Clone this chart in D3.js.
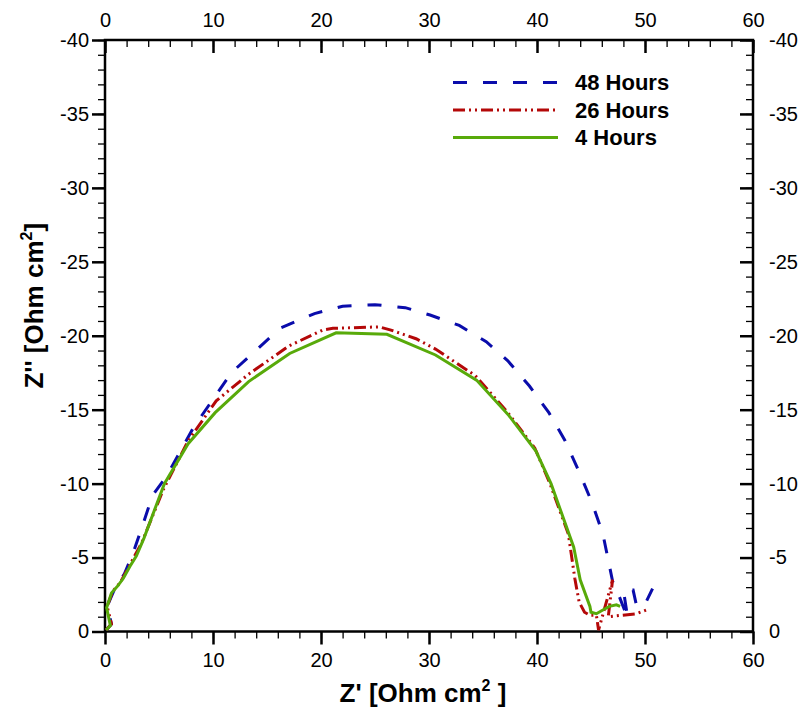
<!DOCTYPE html>
<html>
<head>
<meta charset="utf-8">
<script src="https://cdn.jsdelivr.net/npm/d3@7"></script>
<style>
  body { margin: 0; background: #fff; }
  text { font-family: "Liberation Sans", Arial, sans-serif; }
  .tick text { font-size: 20px; fill: #000; }
  .tick line { stroke: #000; }
  .title { font-size: 26px; font-weight: bold; }
  .legend text { font-size: 22px; font-weight: bold; }
</style>
</head>
<body>
<div id="chart-area"></div>
<script>
// Nyquist data: [Z', Z'']
var hours48 = [[0.1,-0.1],[0.6,-0.5],[0.2,-1.7],[0.9,-2.9],[1.8,-3.9],[2.6,-5.3],[3.4,-7.0],[4.4,-9.2],
  [5.7,-10.5],[8.2,-13.8],[11.7,-17.5],[16.2,-20.5],[19.4,-21.5],[22.0,-22.0],[25.0,-22.1],[27.8,-21.9],
  [30.1,-21.4],[32.8,-20.7],[35.3,-19.6],[37.3,-18.3],[39.3,-16.6],[41.1,-14.8],[42.6,-12.9],[43.9,-10.8],
  [45.1,-8.7],[46.1,-6.6],[47.0,-3.4],[47.6,-2.4],[48.4,-0.9],[48.0,-2.8],[48.9,-2.8],[49.2,-1.8],
  [49.9,-1.7],[50.7,-2.9]];
var hours26 = [[0.1,-0.1],[0.6,-0.5],[0.2,-1.7],[0.7,-2.7],[1.4,-3.3],[2.3,-4.5],[3.4,-6.0],[5.4,-9.6],
  [7.7,-12.9],[10.3,-15.6],[13.3,-17.4],[17.0,-19.3],[20.2,-20.4],[21.1,-20.5],[25.4,-20.6],[26.4,-20.4],
  [28.8,-19.8],[30.6,-19.1],[34.3,-17.3],[37.3,-14.8],[39.8,-12.4],[41.2,-10.0],[42.9,-6.6],[43.5,-3.6],
  [43.9,-2.0],[44.4,-1.3],[44.9,-1.1],[45.5,-1.1],[45.7,-0.1],[47.0,-3.5],[46.6,-1.0],[47.9,-1.1],
  [49.2,-1.2],[50.1,-1.45]];
var hours4 = [[0.1,-0.1],[0.5,-0.4],[0.15,-1.6],[0.6,-2.6],[1.2,-3.1],[1.7,-3.6],[2.3,-4.4],[2.9,-5.1],
  [3.6,-6.3],[5.5,-10.0],[7.7,-12.7],[10.2,-14.8],[13.3,-16.9],[17.1,-18.8],[21.4,-20.2],[26.1,-20.1],
  [30.6,-18.7],[34.4,-17.0],[37.4,-14.6],[39.9,-12.2],[41.3,-10.0],[43.4,-5.7],[44.0,-3.5],[44.9,-1.7],
  [45.0,-1.3],[45.5,-1.2],[46.1,-1.45],[46.7,-1.7],[47.35,-1.8],[47.7,-1.7]];

var seriesNames = ["48 Hours", "26 Hours", "4 Hours"];
var seriesData = [hours48, hours26, hours4];
var seriesColors = ["#0a0cab", "#b40808", "#58aa0a"];
var seriesDash = ["14,16", "12,4,2,4,2,4", null];

var xTicks = [0, 10, 20, 30, 40, 50, 60];
var yTicks = [0, -5, -10, -15, -20, -25, -30, -35, -40];

var margin = {top: 40, right: 55, bottom: 78.5, left: 105},
  width = 808 - margin.left - margin.right,
  height = 710 - margin.top - margin.bottom;

var svg = d3.select("#chart-area")
  .append("svg")
  .attr("width", 808)
  .attr("height", 710)
  .append("g")
  .attr("transform", "translate(" + margin.left + "," + margin.top + ")");

var x = d3.scaleLinear().domain([0, 60]).range([0, width]);
var y = d3.scaleLinear().domain([0, -40]).range([height, 0]);

// plain hyphen for negatives, like the original
var fmt = function(d) { return String(d); };

// minor ticks first
function minor(axis, g) {
  g.call(axis.tickFormat("").tickSizeOuter(0));
  g.select(".domain").remove();
  g.selectAll(".tick line").attr("stroke-width", 1.3);
}
minor(d3.axisBottom(x).tickValues(d3.range(0, 61, 2)).tickSize(7),
  svg.append("g").attr("transform", "translate(0," + height + ")"));
minor(d3.axisTop(x).tickValues(d3.range(0, 61, 2)).tickSize(-7), svg.append("g"));
minor(d3.axisLeft(y).tickValues(d3.range(0, -41, -1)).tickSize(7), svg.append("g"));
minor(d3.axisRight(y).tickValues(d3.range(0, -41, -1)).tickSize(-7),
  svg.append("g").attr("transform", "translate(" + width + ",0)"));

// major ticks with labels
function major(axis, g) {
  g.call(axis.tickFormat(fmt).tickSizeOuter(0));
  g.select(".domain").remove();
  g.selectAll(".tick line").attr("stroke-width", 2.5);
}
major(d3.axisBottom(x).tickValues(xTicks).tickSize(13).tickPadding(8),
  svg.append("g").attr("transform", "translate(0," + height + ")"));
major(d3.axisTop(x).tickValues(xTicks).tickSize(-13).tickPadding(13), svg.append("g"));
major(d3.axisLeft(y).tickValues(yTicks).tickSize(13).tickPadding(3), svg.append("g"));
major(d3.axisRight(y).tickValues(yTicks).tickSize(-13).tickPadding(16),
  svg.append("g").attr("transform", "translate(" + width + ",0)"));

// frame
svg.append("rect")
  .attr("width", width).attr("height", height)
  .attr("fill", "none").attr("stroke", "#000").attr("stroke-width", 2.5);

// curves
var line = d3.line().x(function(d) { return x(d[0]); }).y(function(d) { return y(d[1]); });
seriesData.forEach(function(s, i) {
  svg.append("path")
    .datum(s)
    .attr("d", line)
    .attr("fill", "none")
    .attr("stroke", seriesColors[i])
    .attr("stroke-width", 3)
    .attr("stroke-dasharray", seriesDash[i]);
});

// legend
var legend = svg.append("g").attr("class", "legend");
seriesNames.forEach(function(name, i) {
  var ly = 42.5 + i * 27.5;
  legend.append("line")
    .attr("x1", 348).attr("x2", 453).attr("y1", ly).attr("y2", ly)
    .attr("stroke", seriesColors[i]).attr("stroke-width", 3)
    .attr("stroke-dasharray", seriesDash[i]);
  legend.append("text")
    .attr("x", 470).attr("y", ly).attr("dy", "0.36em")
    .text(name);
});

// axis titles
var xt = svg.append("text").attr("class", "title")
  .attr("text-anchor", "middle")
  .attr("x", width / 2 - 6).attr("y", height + 70);
xt.append("tspan").text("Z' [Ohm cm");
xt.append("tspan").attr("dy", -11).attr("font-size", 16).text("2");
xt.append("tspan").attr("dy", 11).text(" ]");

var yt = svg.append("text").attr("class", "title")
  .attr("text-anchor", "middle")
  .attr("transform", "translate(-62," + (height / 2 - 30) + ") rotate(-90)");
yt.append("tspan").text("Z'' [Ohm cm");
yt.append("tspan").attr("dy", -11).attr("font-size", 16).text("2");
yt.append("tspan").attr("dy", 11).text("]");
</script>
</body>
</html>
